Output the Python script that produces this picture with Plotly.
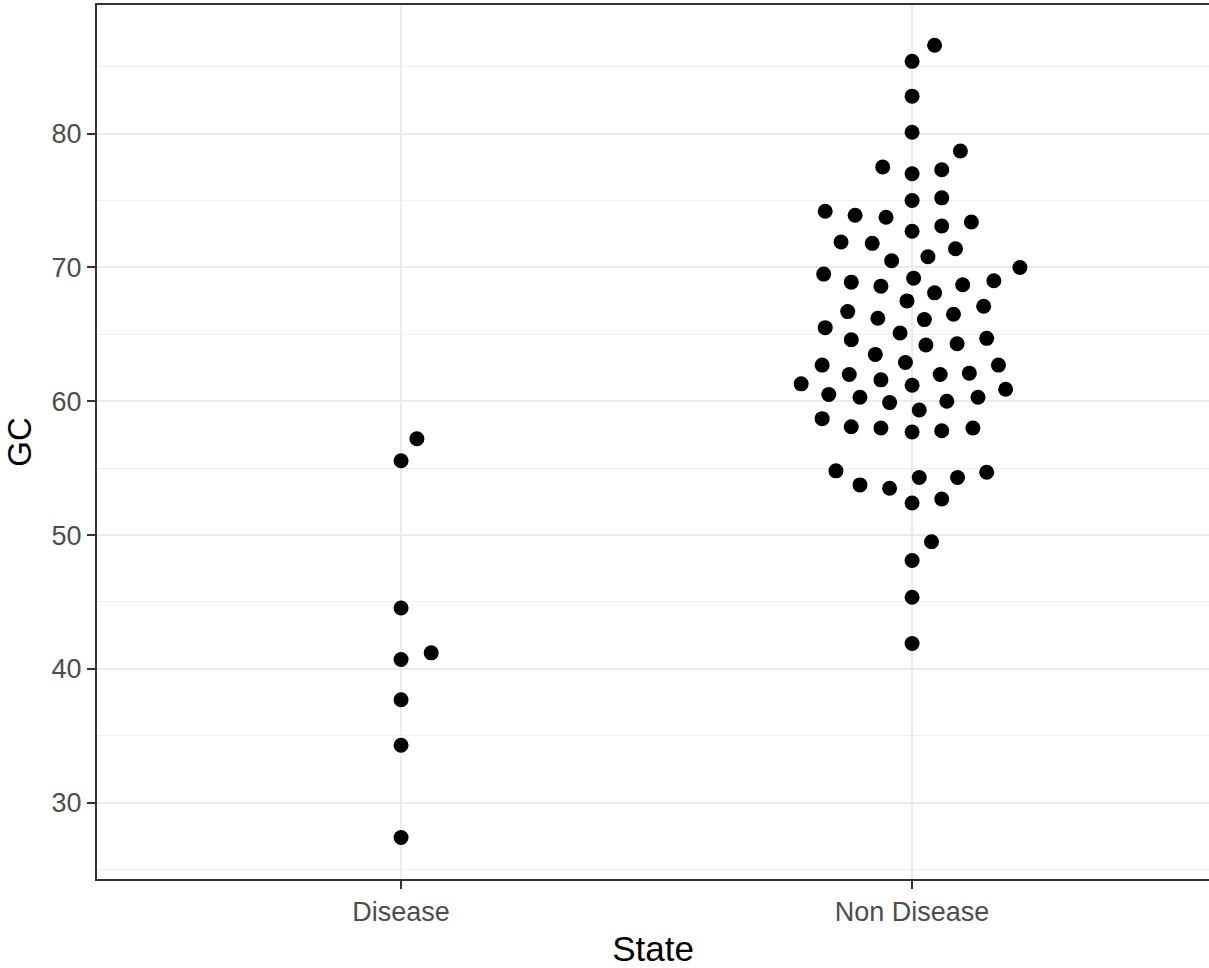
import plotly.graph_objects as go

# ---- data ----
categories = ["Disease", "Non Disease"]

disease_gc = [57.2, 55.55, 44.55, 41.2, 40.7, 37.7, 34.3, 27.4]
disease_swarm = [0.031, 0.0, 0.0, 0.059, 0.0, 0.0, 0.0, 0.0]

nondisease_gc = [
    86.6, 85.4, 82.8, 80.1, 78.7, 77.5, 77.0, 77.3, 75.0, 75.2,
    74.2, 73.9, 73.75, 72.7, 73.1, 73.4, 71.9, 71.8, 71.4, 70.5,
    70.8, 70.0, 69.5, 68.9, 68.6, 69.2, 68.1, 68.7, 69.0, 67.5,
    66.7, 66.2, 66.1, 66.5, 67.1, 65.5, 65.1, 64.6, 64.2, 64.3,
    64.7, 63.5, 62.7, 62.9, 62.7, 62.0, 61.6, 62.0, 62.1, 61.3,
    61.2, 60.9, 60.5, 60.3, 59.9, 60.0, 60.3, 59.35, 58.7, 58.1,
    58.0, 57.7, 57.8, 58.0, 54.8, 53.75, 53.5, 54.3, 54.3, 54.7,
    52.4, 52.7, 49.5, 48.1, 45.35, 41.9,
]
nondisease_swarm = [
    0.044, 0.0, 0.0, 0.0, 0.0945, -0.0575, 0.0, 0.058, 0.0, 0.058,
    -0.170, -0.1115, -0.051, 0.0, 0.058, 0.116, -0.139, -0.078, 0.085, -0.040,
    0.031, 0.211, -0.173, -0.119, -0.061, 0.003, 0.044, 0.099, 0.160, -0.010,
    -0.126, -0.067, 0.024, 0.081, 0.140, -0.170, -0.0235, -0.119, 0.027, 0.088,
    0.146, -0.072, -0.176, -0.013, 0.169, -0.123, -0.061, 0.055, 0.112, -0.217,
    0.0, 0.183, -0.163, -0.102, -0.044, 0.068, 0.129, 0.014, -0.176, -0.119,
    -0.061, 0.0, 0.058, 0.119, -0.149, -0.102, -0.044, 0.014, 0.089, 0.146,
    0.0, 0.058, 0.038, 0.0, 0.0, 0.0,
]

y_ticks = [30, 40, 50, 60, 70, 80]

# ---- figure ----
groups = [(1, disease_gc, disease_swarm), (2, nondisease_gc, nondisease_swarm)]
xs, ys = [], []
for pos, vals, offs in groups:
    for v, o in zip(vals, offs):
        xs.append(pos + o)
        ys.append(v)

fig = go.Figure()
fig.add_trace(go.Scatter(
    x=xs, y=ys, mode="markers",
    marker=dict(color="black", size=15, line=dict(width=0)),
    showlegend=False, hoverinfo="y",
))

axis_font = dict(family="Liberation Sans, Arial, sans-serif", size=27, color="#4D4D4D")
xtitle_font = dict(family="Liberation Sans, Arial, sans-serif", size=35, color="black")
ytitle_font = dict(family="Liberation Sans, Arial, sans-serif", size=33, color="black")

fig.update_layout(
    width=1209, height=968,
    margin=dict(l=97, r=0, t=5, b=89),
    paper_bgcolor="white", plot_bgcolor="white",
    xaxis=dict(
        range=[0.405, 2.581],
        tickmode="array", tickvals=[1, 2], ticktext=categories,
        showgrid=True, gridcolor="#EBEBEB", gridwidth=2,
        zeroline=False,
        showline=True, linecolor="#333333", linewidth=2, mirror=True,
        ticks="outside", ticklen=8, tickwidth=2, tickcolor="#333333",
        tickfont=axis_font,
        title=dict(text="State", font=xtitle_font, standoff=10),
    ),
    yaxis=dict(
        range=[24.3, 89.61],
        tickmode="array", tickvals=y_ticks,
        showgrid=True, gridcolor="#EBEBEB", gridwidth=2,
        minor=dict(tickmode="array", tickvals=[25, 35, 45, 55, 65, 75, 85],
                   showgrid=True, gridcolor="#F0F0F0", gridwidth=1, ticks=""),
        zeroline=False,
        showline=True, linecolor="#333333", linewidth=2, mirror=False,
        ticks="outside", ticklen=8, tickwidth=2, tickcolor="#333333",
        tickfont=axis_font,
        title=dict(text="GC", font=ytitle_font, standoff=10),
    ),
)

fig.write_html("out.html")
